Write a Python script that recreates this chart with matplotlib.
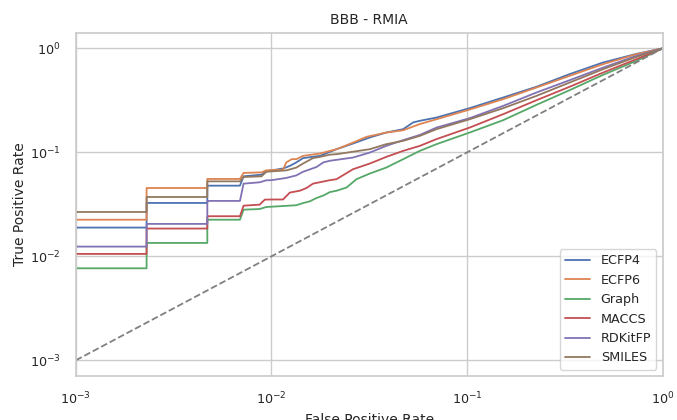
import matplotlib
matplotlib.use("Agg")
import matplotlib.pyplot as plt
import seaborn as sns

sns.set_theme(style="whitegrid")

# ROC curves (FPR, TPR)
ecfp4_fpr = [0, 0.0023, 0.0023, 0.0047, 0.0047, 0.0069, 0.0072, 0.0089, 0.0094, 0.0100,
             0.0115, 0.0124, 0.0134, 0.0145, 0.0177, 0.0215, 0.0261, 0.0318, 0.0386, 0.0471,
             0.0530, 0.0573, 0.0697, 0.103, 0.153, 0.226, 0.334, 0.495, 0.733, 1.0]
ecfp4_tpr = [0.0189, 0.0189, 0.0326, 0.0326, 0.0478, 0.0478, 0.0588, 0.0610, 0.0656, 0.0671,
             0.0700, 0.0740, 0.0800, 0.0880, 0.0925, 0.1072, 0.1215, 0.139, 0.155, 0.167,
             0.194, 0.201, 0.216, 0.266, 0.337, 0.427, 0.565, 0.731, 0.885, 1.0]

ecfp6_fpr = [0, 0.0023, 0.0023, 0.0047, 0.0047, 0.0069, 0.0072, 0.0089, 0.0094, 0.0100,
             0.01146, 0.0119, 0.0127, 0.0134, 0.0145, 0.0177, 0.0215, 0.0261, 0.0306, 0.0386,
             0.0471, 0.0573, 0.0697, 0.103, 0.153, 0.226, 0.334, 0.495, 0.733, 1.0]
ecfp6_tpr = [0.0225, 0.0225, 0.0454, 0.0454, 0.0555, 0.0555, 0.0634, 0.0642, 0.0671, 0.0675,
             0.0680, 0.0800, 0.0860, 0.0860, 0.0925, 0.0974, 0.1072, 0.124, 0.141, 0.155,
             0.163, 0.187, 0.208, 0.258, 0.325, 0.420, 0.544, 0.704, 0.879, 1.0]

graph_fpr = [0, 0.0023, 0.0023, 0.0047, 0.0047, 0.0069, 0.0072, 0.0087, 0.0094, 0.0100,
             0.0134, 0.0145, 0.0157, 0.0170, 0.0184, 0.0199, 0.0215, 0.0242, 0.0272, 0.0318,
             0.0386, 0.0471, 0.0573, 0.0697, 0.103, 0.153, 0.226, 0.334, 0.495, 0.733, 1.0]
graph_tpr = [0.00767, 0.00767, 0.01345, 0.01345, 0.0225, 0.0225, 0.0281, 0.0285, 0.0298, 0.0300,
             0.0310, 0.0325, 0.0338, 0.0364, 0.0384, 0.0415, 0.0427, 0.0459, 0.0552, 0.0625,
             0.0714, 0.0859, 0.1033, 0.1198, 0.155, 0.204, 0.286, 0.396, 0.556, 0.759, 1.0]

maccs_fpr = [0, 0.0023, 0.0023, 0.0047, 0.0047, 0.0069, 0.0072, 0.0087, 0.00925, 0.0100,
             0.01146, 0.0124, 0.0140, 0.0151, 0.0163, 0.0199, 0.0215, 0.0261, 0.0318, 0.0386,
             0.0471, 0.0573, 0.0697, 0.103, 0.153, 0.226, 0.334, 0.495, 0.733, 1.0]
maccs_tpr = [0.01055, 0.01055, 0.0185, 0.0185, 0.0243, 0.0243, 0.0307, 0.0314, 0.0351, 0.0352,
             0.0352, 0.0410, 0.0428, 0.0454, 0.0500, 0.0540, 0.0552, 0.0688, 0.078, 0.0904,
             0.1033, 0.1154, 0.134, 0.173, 0.233, 0.317, 0.427, 0.585, 0.787, 1.0]

rdkit_fpr = [0, 0.0023, 0.0023, 0.0047, 0.0047, 0.0069, 0.0072, 0.0087, 0.0094, 0.0100,
             0.0119, 0.0134, 0.0145, 0.0170, 0.0184, 0.0199, 0.0261, 0.0318, 0.0386, 0.0471,
             0.0573, 0.0697, 0.103, 0.153, 0.226, 0.334, 0.495, 0.733, 1.0]
rdkit_tpr = [0.0124, 0.0124, 0.0205, 0.0205, 0.0341, 0.0341, 0.050, 0.0515, 0.0538, 0.0540,
             0.0567, 0.0600, 0.0650, 0.0723, 0.0800, 0.0830, 0.0891, 0.0995, 0.1154, 0.131,
             0.147, 0.173, 0.213, 0.280, 0.376, 0.494, 0.653, 0.847, 1.0]

smiles_fpr = [0, 0.0023, 0.0023, 0.0047, 0.0047, 0.0069, 0.0072, 0.0089, 0.0094, 0.0100,
              0.0119, 0.0134, 0.0145, 0.0163, 0.0177, 0.0199, 0.0215, 0.0318, 0.0386, 0.0471,
              0.0573, 0.0697, 0.103, 0.153, 0.226, 0.334, 0.495, 0.733, 1.0]
smiles_tpr = [0.0267, 0.0267, 0.0372, 0.0372, 0.0526, 0.0526, 0.0579, 0.0588, 0.0650, 0.0656,
              0.0670, 0.0714, 0.078, 0.088, 0.0904, 0.095, 0.096, 0.1072, 0.1198, 0.129,
              0.144, 0.167, 0.208, 0.266, 0.349, 0.469, 0.630, 0.828, 1.0]

labels = ["ECFP4", "ECFP6", "Graph", "MACCS", "RDKitFP", "SMILES"]
curves = [
    (ecfp4_fpr, ecfp4_tpr),
    (ecfp6_fpr, ecfp6_tpr),
    (graph_fpr, graph_tpr),
    (maccs_fpr, maccs_tpr),
    (rdkit_fpr, rdkit_tpr),
    (smiles_fpr, smiles_tpr),
]
colors = sns.color_palette("deep", 6)

fig, ax = plt.subplots(figsize=(6.77, 4.2), dpi=100)
fig.subplots_adjust(left=0.112, right=0.979, top=0.922, bottom=0.105)

for (fpr, tpr), label, c in zip(curves, labels, colors):
    ax.plot(fpr, tpr, label=label, color=c, linewidth=1.3)

ax.plot([1e-3, 1], [1e-3, 1], linestyle="--", color="gray", linewidth=1.3)

ax.set_xscale("log")
ax.set_yscale("log")
ax.set_xlim(1e-3, 1)
ax.set_ylim(10 ** -3.15, 10 ** 0.15)

ax.set_title("BBB - RMIA", fontsize=10)
ax.set_xlabel("False Positive Rate", fontsize=10)
ax.set_ylabel("True Positive Rate", fontsize=10, labelpad=2)
ax.tick_params(axis="both", labelsize=9.2, pad=5)
ax.legend(loc="lower right", fontsize=9.2)

fig.savefig("out.png", dpi=100)
